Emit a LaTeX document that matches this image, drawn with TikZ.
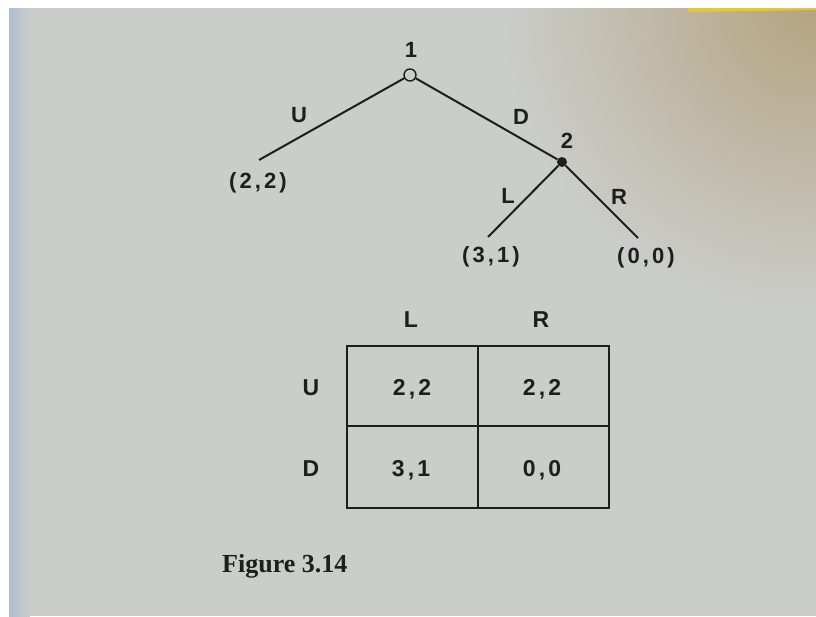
\documentclass[tikz,border=0pt]{standalone}
\usepackage{fontspec}
\setmainfont{Liberation Sans}
\newfontfamily\lblfont[LetterSpace=14]{Liberation Sans}
\newfontfamily\capfont{Liberation Serif}
\definecolor{pagec}{RGB}{203,205,203}
\definecolor{tanc}{RGB}{180,163,128}
\definecolor{edgeblue}{RGB}{175,190,205}
\definecolor{inkc}{RGB}{30,30,30}
\definecolor{stickyc}{RGB}{222,200,60}
\begin{document}
\begin{tikzpicture}[x=1pt,y=-1pt,
  lbl/.style={font=\lblfont\bfseries\fontsize{22}{26}\selectfont, text=inkc, inner sep=0, anchor=base},
  cell/.style={font=\lblfont\bfseries\fontsize{23}{27}\selectfont, text=inkc, inner sep=0, anchor=base},
  edge/.style={draw=inkc, line width=2pt},
  grid/.style={draw=inkc, line width=2pt}]
\useasboundingbox (0,0) rectangle (816,616);
% page background
\fill[white] (0,0) rectangle (816,616);
\fill[pagec] (9,8) rectangle (816,616);
\begin{scope}
  \clip (9,8) rectangle (816,616);
  \shade[inner color=tanc, outer color=pagec] (816,0) circle (320);
  \shade[left color=edgeblue, right color=pagec] (9,8) rectangle (30,616);
  \fill[stickyc] (688,8) -- (816,8) -- (816,10) -- (688,12) -- cycle;
\end{scope}
% game tree
\node[circle, draw=inkc, fill=pagec, line width=1.4pt, minimum size=12pt, inner sep=0] (n1) at (410,75) {};
\node[circle, fill=inkc, minimum size=10pt, inner sep=0] (n2) at (562,162) {};
\coordinate (t1) at (259,160);
\coordinate (t2) at (488,237);
\coordinate (t3) at (638,238);
\draw[edge] (n1) -- (t1);
\draw[edge] (n1) -- (n2);
\draw[edge] (n2) -- (t2);
\draw[edge] (n2) -- (t3);
\node[lbl] (p1) at (411,57) {1};
\node[lbl] (p2) at (567,148) {2};
\node[lbl] (lu) at (299,122) {U};
\node[lbl] (ld) at (521,124) {D};
\node[lbl] (ll) at (508,203) {L};
\node[lbl] (lr) at (619,204) {R};
\node[lbl] (o1) at (258,188) {(2,2)};
\node[lbl] (o2) at (491,262) {(3,1)};
\node[lbl] (o3) at (646,263) {(0,0)};
% normal form
\node[cell] (cl) at (411,327) {L};
\node[cell] (cr) at (541,327) {R};
\node[cell] (ru) at (311,395) {U};
\node[cell] (rd) at (311,476) {D};
\coordinate (tl) at (347,346);
\coordinate (br) at (609,508);
\draw[grid] (tl) rectangle (br);
\draw[grid] (478,346) -- (478,508);
\draw[grid] (347,426) -- (609,426);
\node[cell] (c11) at (412,395) {2,2};
\node[cell] (c12) at (542,395) {2,2};
\node[cell] (c21) at (411,476) {3,1};
\node[cell] (c22) at (542,476) {0,0};
% caption
\node[font=\capfont\bfseries\fontsize{26}{30}\selectfont, text=inkc, inner sep=0, anchor=base west] (cap) at (222,572) {Figure 3.14};
\end{tikzpicture}
\end{document}
